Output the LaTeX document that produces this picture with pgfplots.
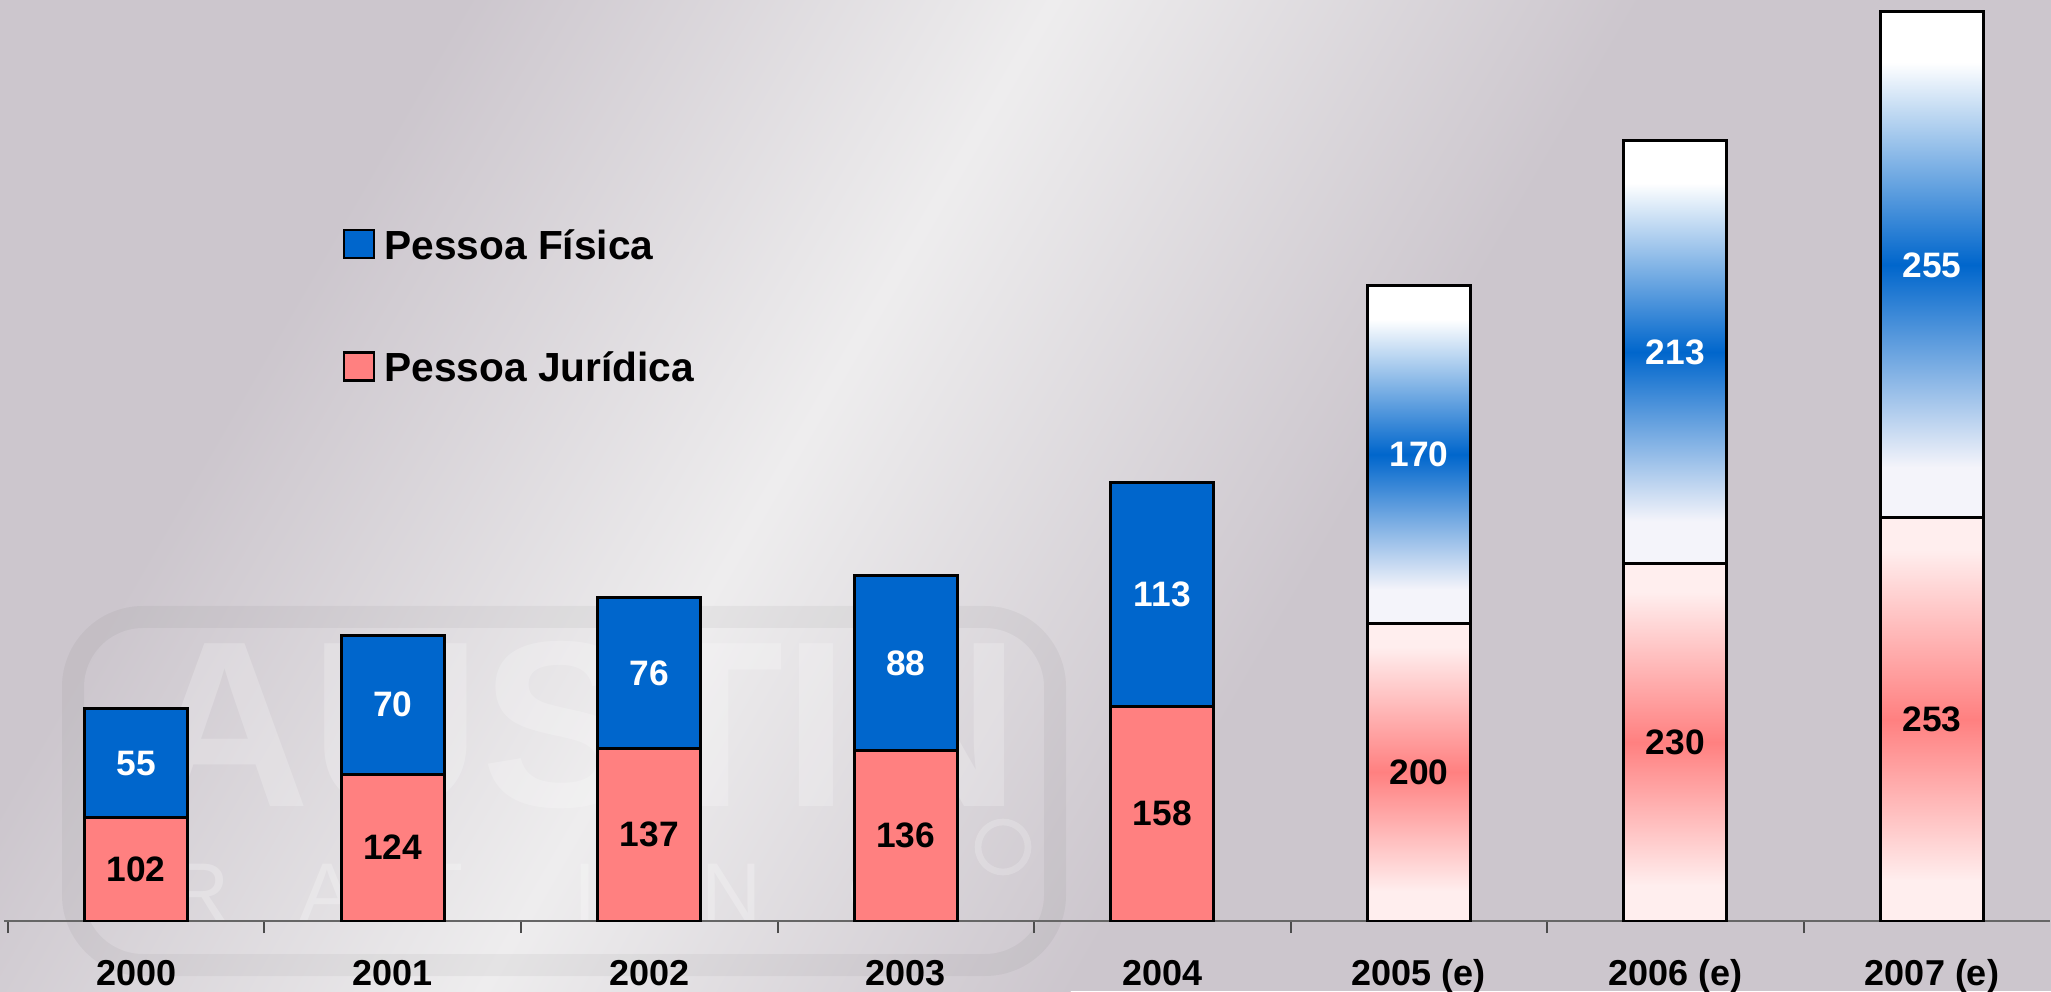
\documentclass[border=0pt]{standalone}
\usepackage{fontspec}
\setmainfont{Liberation Sans}
\usepackage{pgfplots}
\pgfplotsset{compat=1.18}

\definecolor{bgdark}{RGB}{204,198,205}
\definecolor{bglight}{RGB}{238,237,238}
\definecolor{pfblue}{RGB}{0,102,204}
\definecolor{pjpink}{RGB}{255,128,128}
\definecolor{palepink}{RGB}{255,238,238}
\definecolor{paleblue}{RGB}{244,244,250}

% gradients of the estimated years (2005-2007)
\pgfdeclareverticalshading{pinkfade}{100bp}{color(0bp)=(palepink); color(30bp)=(palepink); color(50bp)=(pjpink); color(71bp)=(palepink); color(100bp)=(palepink)}
\pgfdeclareverticalshading{bluefade}{100bp}{color(0bp)=(paleblue); color(30bp)=(paleblue); color(50bp)=(pfblue); color(70bp)=(white); color(100bp)=(white)}

\newcommand{\lblfont}{\fontsize{10.6}{12}\selectfont\bfseries}

\pgfplotsset{
  barbase/.style={
    scale only axis, width=613.8pt, height=276.3pt,
    xmin=-0.515, xmax=7.46, ymin=50, ymax=513.9,
    ybar stacked, bar width=30.9pt,
    /pgf/number format/assume math mode=true,
    visualization depends on=rawy \as \rawy,
  },
  % stacked labels sit at the segment centre; pink ones are moved to the visible centre
  pjlabel/.style={nodes near coords={\pgfmathprintnumber{\rawy}},
    nodes near coords style={font=\lblfont, text=black, anchor=center, yshift=14.9pt}},
  pflabel/.style={nodes near coords={\pgfmathprintnumber{\rawy}},
    nodes near coords style={font=\lblfont, text=white, anchor=center}},
  sqlegend/.style={legend image code/.code={\draw[##1, draw=black, line width=0.7pt] (0pt,-3.9pt) rectangle (9pt,4.5pt);}},
  barline/.style={draw=black, line width=0.9pt},
}

% one estimated year: its own axis, so that each bar gets its own gradient
\newcommand{\estbar}[3]{%
  \begin{axis}[barbase, hide axis]
  \addplot[barline, shade, shading=pinkfade, pjlabel] coordinates {(#1,#2)};
  \addplot[barline, shade, shading=bluefade, pflabel] coordinates {(#1,#3)};
  \end{axis}}

\begin{document}
\begin{tikzpicture}
\useasboundingbox (-1.2pt,-21pt) rectangle (614.1pt,276.3pt);
\begin{scope}
  \clip (-1.2pt,-21pt) rectangle (614.1pt,276.3pt);
  \fill[bgdark] (-1.2pt,-21pt) rectangle (614.1pt,276.3pt);
  \begin{scope}[transform canvas={shift={(229.5pt,128.1pt)}, rotate=-30}]
    \shade[left color=bgdark, right color=bgdark, middle color=bglight] (-153pt,-400pt) rectangle (153pt,400pt);
  \end{scope}
  % faint watermark
  \begin{scope}[x=0.3pt, y=0.3pt]
    \draw[line width=6.6pt, rounded corners=21pt, draw=black, opacity=0.04] (69,304) rectangle (1051,-44);
    \node[text=white, opacity=0.22, font=\fontsize{71}{71}\selectfont\bfseries] at (576,196) {AUSTIN};
    \foreach \lx/\lt in {196/R,323/A,434/T,581/I,728/N,876/G}
      \node[text=white, opacity=0.25, font=\fontsize{25}{25}\selectfont] at (\lx,28) {\lt};
    \draw[white, opacity=0.2, line width=2pt] (999,74) circle (25);
  \end{scope}
\end{scope}

\begin{axis}[barbase,
  axis x line*=bottom, axis y line=none,
  axis line style={draw=black!60, line width=0.6pt},
  xtick={0,...,7},
  xticklabels={2000,2001,2002,2003,2004,2005 (e),2006 (e),2007 (e)},
  major tick length=0pt,
  minor xtick={-0.5,0.5,...,6.5}, minor tick length=3.6pt,
  tick align=outside,
  tick style={draw=black!70, line width=0.6pt},
  xticklabel style={font=\fontsize{10.8}{13}\selectfont\bfseries, inner sep=0pt,
    text height=7.8pt, text depth=0pt, anchor=north, yshift=-11.4pt},
  ytick=\empty,
  reverse legend, legend cell align=left,
  legend style={at={(0.1657,0.7514)}, anchor=north west, draw=none, fill=none,
    inner sep=0pt, outer sep=0pt, row sep=27.5pt, column sep=2.7pt,
    font=\fontsize{12.2}{14}\selectfont\bfseries,
    nodes={inner sep=0pt, text height=8.7pt, text depth=0pt}},
]
\addplot[fill=pjpink, barline, pjlabel, sqlegend]
  coordinates {(0,102) (1,124) (2,137) (3,136) (4,158)};
\addlegendentry{Pessoa Jurídica}
\addplot[fill=pfblue, barline, pflabel, sqlegend]
  coordinates {(0,55) (1,70) (2,76) (3,88) (4,113)};
\addlegendentry{Pessoa Física}
\end{axis}

\estbar{5}{200}{170}
\estbar{6}{230}{213}
\estbar{7}{253}{255}
\end{tikzpicture}
\end{document}
